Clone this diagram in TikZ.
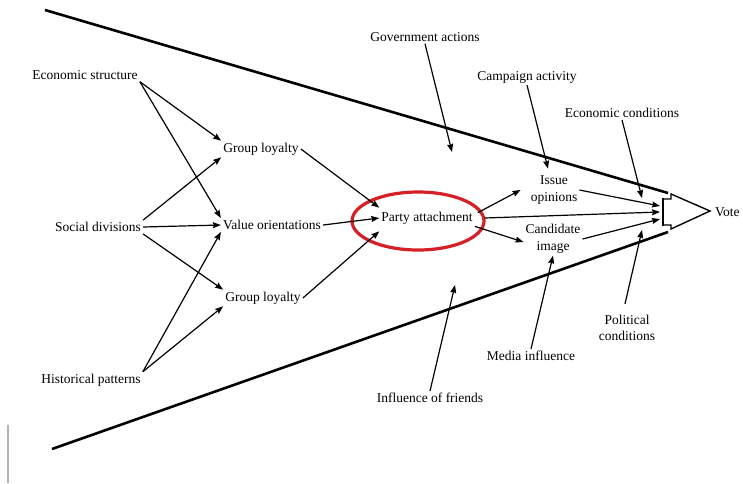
\documentclass[tikz,border=0pt]{standalone}
\usepackage{fontspec}
\setmainfont{Liberation Serif}
\usetikzlibrary{arrows.meta,calc}
\definecolor{ered}{RGB}{214,32,39}
\begin{document}
\begin{tikzpicture}[x=1pt,y=-1pt,
  lbl/.style={font=\fontsize{13.5}{16.5}\selectfont, inner sep=2pt, align=center},
  arr/.style={line width=1.2pt,-{Stealth[length=8pt,width=6pt,inset=1pt]}},
  funnel/.style={line width=2.6pt},
  blockline/.style={line width=1.4pt, line join=miter},
]
\useasboundingbox (0,0) rectangle (743,483);
\fill[white] (0,0) rectangle (743,483);

% funnel
\draw[funnel] (45,10) -- (668,193);
\draw[funnel] (52,449) -- (668,232);
% scan artefact
\draw[gray!60, line width=1.2pt] (8,425) -- (8,483);

% block arrow to vote
\draw[blockline] (663,199) -- (671,199) -- (671,194) -- (710,211) -- (671,229) -- (671,225) -- (663,225) -- cycle;
\draw[line width=2.6pt] (663,198) -- (663,226);
\coordinate (bt) at (660,206);
\coordinate (bm) at (660,212);
\coordinate (bb) at (660,219);

% nodes
\node[lbl] (es) at (85,75) {Economic structure};
\node[lbl] (sd) at (98,227) {Social divisions};
\node[lbl] (hp) at (91,380) {Historical patterns};
\node[lbl] (gl1) at (261,149) {Group loyalty};
\node[lbl] (vo) at (272,225) {Value orientations};
\node[lbl] (gl2) at (263,298) {Group loyalty};
\node[lbl] (pa) at (427,218) {Party attachment};
\draw[ered, line width=3.2pt] (418,221) ellipse [x radius=66pt, y radius=29pt];
\node[lbl] (io) at (554,190) {Issue\\opinions};
\node[lbl] (ci) at (553,239) {Candidate\\image};
\node[lbl] (ga) at (425,37) {Government actions};
\node[lbl] (ca) at (527,77) {Campaign activity};
\node[lbl] (ec) at (622,113) {Economic conditions};
\node[lbl] (pc) at (627,328) {Political\\conditions};
\node[lbl] (mi) at (531,356) {Media influence};
\node[lbl] (if) at (430,398) {Influence of friends};
\node[lbl, anchor=west] (vote) at (713,212) {Vote};

\coordinate (gaT) at (452,152);
\coordinate (ifT) at (455,285);
\coordinate (ecT) at (642,198);
\coordinate (pcT) at (642,230);

% left connectors
\draw[arr] (es.south east) -- (gl1.north west);
\draw[arr] (es.south east) -- (vo.north west);
\draw[arr] (sd.north east) -- (gl1.south west);
\draw[arr] (sd.east) -- (vo.west);
\draw[arr] (sd.south east) -- (gl2.north west);
\draw[arr] (hp.north east) -- (vo.south west);
\draw[arr] (hp.north east) -- (gl2.south west);

% into party attachment
\draw[arr] (gl1.east) -- ([yshift=2pt]pa.north west);
\draw[arr] (vo.east) -- (pa.west);
\draw[arr] (gl2.east) -- ([yshift=-5pt]pa.south west);

% out of party attachment
\draw[arr] ([xshift=3pt,yshift=-3pt]pa.north east) -- ([xshift=-8pt]io.west);
\draw[arr] ([xshift=10pt]pa.east) -- (bm);
\draw[arr] (pa.south east) -- ([yshift=-3pt]ci.west);
\draw[arr] (io.east) -- (bt);
\draw[arr] (ci.east) -- (bb);

% outer influences
\draw[arr] (ga.south) -- (gaT);
\draw[arr] (ca.south) -- ([xshift=-6pt,yshift=5pt]io.north);
\draw[arr] (ec.south) -- (ecT);
\draw[arr] ([xshift=-2pt,yshift=9pt]pc.north) -- (pcT);
\draw[arr] (mi.north) -- (ci.south);
\draw[arr] (if.north) -- (ifT);
\end{tikzpicture}
\end{document}
